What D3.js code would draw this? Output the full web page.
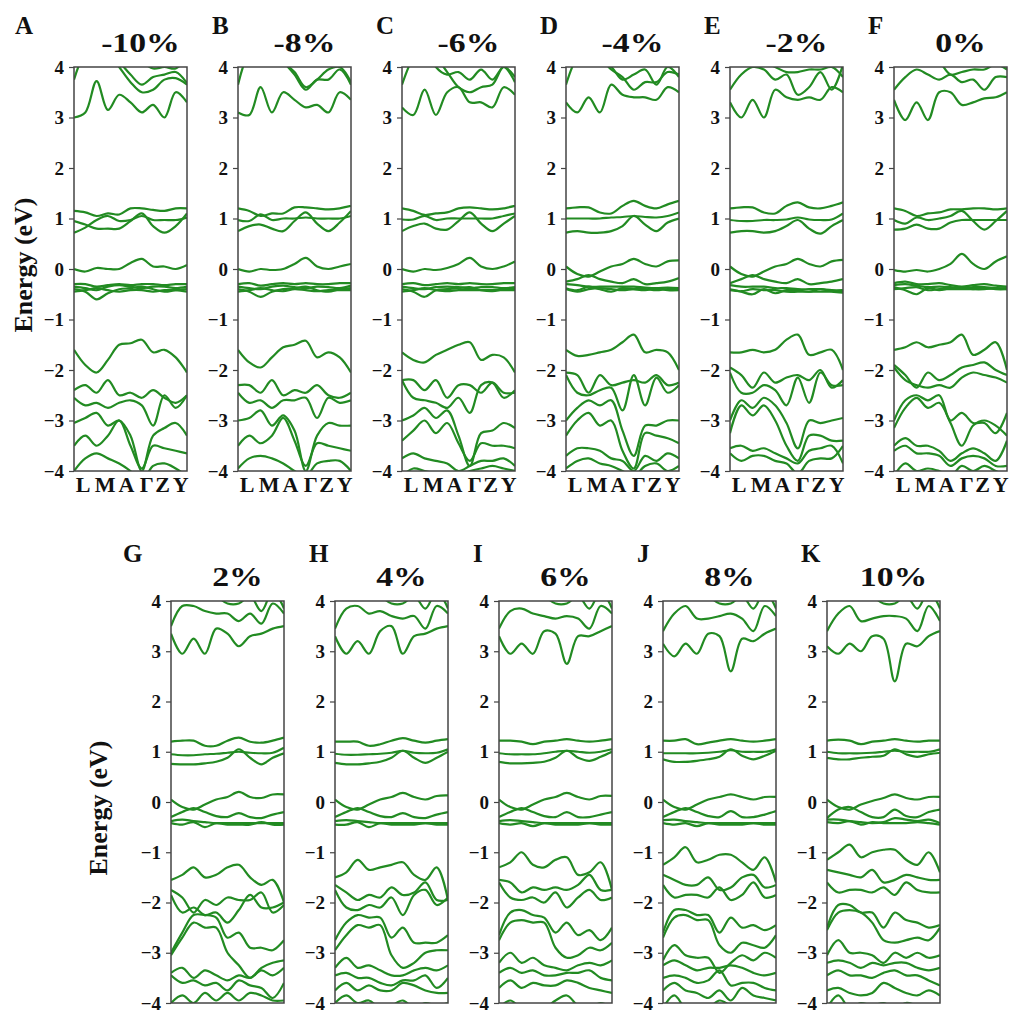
<!DOCTYPE html>
<html>
<head>
<meta charset="utf-8">
<script src="https://cdn.jsdelivr.net/npm/d3@7"></script>
<style>
  body { margin: 0; background: #fff; }
</style>
</head>
<body>
<div id="viz"></div>
<script>
// panel letters and strain titles
const letters = ['A', 'B', 'C', 'D', 'E', 'F', 'G', 'H', 'I', 'J', 'K'];
const strains = ['-10%', '-8%', '-6%', '-4%', '-2%', '0%', '2%', '4%', '6%', '8%', '10%'];
const kLabels = ['L', 'M', 'A', 'Γ', 'Z', 'Y'];
const kLabelAt = [0.75, 2.7, 4.6, 6.4, 7.8, 9.4];
const yTicks = [-4, -3, -2, -1, 0, 1, 2, 3, 4];

// band energies (eV), 11 k-samples each
const bandsA = [
  [3.0, 3.1, 3.72, 3.15, 3.45, 3.3, 3.1, 3.25, 3.0, 3.5, 3.3],
  [3.75, 4.3, 4.5, 4.3, 4.1, 3.85, 3.65, 3.8, 3.85, 3.9, 3.68],
  [4.5, 4.5, 4.4, 4.3, 4.0, 3.7, 3.5, 3.55, 3.75, 3.78, 3.65],
  [4.5, 4.5, 4.5, 4.4, 4.3, 4.2, 4.1, 3.97, 4.0, 3.97, 4.2],
  [1.15, 1.12, 1.05, 1.1, 1.08, 1.2, 1.2, 1.17, 1.15, 1.2, 1.2],
  [0.95, 0.88, 0.8, 0.8, 0.8, 0.95, 1.1, 0.85, 0.72, 0.85, 1.1],
  [0.72, 0.82, 0.97, 1.05, 0.95, 0.97, 1.05, 0.97, 0.97, 0.97, 1.02],
  [0.0, -0.05, 0.02, 0.0, 0.0, 0.12, 0.2, 0.05, 0.05, 0.0, 0.08],
  [-0.3, -0.3, -0.35, -0.32, -0.3, -0.32, -0.3, -0.3, -0.32, -0.3, -0.3],
  [-0.35, -0.38, -0.42, -0.35, -0.32, -0.35, -0.38, -0.35, -0.35, -0.38, -0.35],
  [-0.4, -0.45, -0.6, -0.48, -0.4, -0.38, -0.35, -0.4, -0.45, -0.42, -0.4],
  [-0.45, -0.42, -0.38, -0.42, -0.45, -0.42, -0.42, -0.45, -0.42, -0.42, -0.45],
  [-1.6, -1.9, -2.05, -1.8, -1.5, -1.47, -1.4, -1.65, -1.6, -1.75, -2.05],
  [-2.4, -2.3, -2.45, -2.2, -2.5, -2.45, -2.55, -2.4, -2.55, -2.65, -2.5],
  [-2.55, -2.7, -2.65, -2.75, -2.65, -2.6, -2.7, -3.1, -2.5, -2.75, -2.5],
  [-3.05, -2.95, -2.85, -3.1, -3.0, -3.3, -4.0, -3.3, -3.15, -3.05, -3.3],
  [-3.5, -3.3, -3.5, -3.3, -3.0, -3.5, -3.95, -3.5, -3.55, -3.6, -3.65],
  [-4.0, -3.75, -3.65, -3.75, -3.85, -4.0, -4.2, -3.9, -3.85, -3.95, -4.1]
];

const bandsB = [
  [3.1, 3.05, 3.6, 3.1, 3.5, 3.35, 3.2, 3.25, 3.1, 3.5, 3.35],
  [3.65, 4.3, 4.5, 4.4, 4.1, 3.9, 3.6, 3.75, 3.95, 4.0, 3.7],
  [4.5, 4.5, 4.4, 4.3, 4.1, 3.85, 3.55, 3.75, 3.75, 3.95, 3.65],
  [1.2, 1.15, 1.05, 1.1, 1.1, 1.22, 1.22, 1.2, 1.18, 1.2, 1.25],
  [0.97, 0.95, 1.08, 0.97, 1.0, 1.0, 1.02, 1.0, 1.0, 1.0, 1.05],
  [0.75, 0.85, 0.88, 0.8, 0.75, 0.95, 1.12, 0.9, 0.75, 0.92, 1.15],
  [0.0, -0.05, 0.0, -0.02, 0.0, 0.1, 0.22, 0.05, 0.0, 0.05, 0.1],
  [-0.3, -0.28, -0.33, -0.3, -0.28, -0.3, -0.28, -0.3, -0.3, -0.28, -0.28],
  [-0.35, -0.38, -0.4, -0.35, -0.33, -0.36, -0.38, -0.35, -0.36, -0.38, -0.33],
  [-0.4, -0.45, -0.55, -0.45, -0.4, -0.38, -0.35, -0.42, -0.45, -0.4, -0.38],
  [-0.45, -0.42, -0.38, -0.42, -0.44, -0.4, -0.42, -0.44, -0.42, -0.42, -0.42],
  [-1.6, -1.85, -1.95, -1.75, -1.55, -1.5, -1.42, -1.75, -1.65, -1.75, -2.05],
  [-2.3, -2.3, -2.45, -2.2, -2.5, -2.4, -2.45, -2.3, -2.5, -2.55, -2.45],
  [-2.45, -2.65, -2.6, -2.75, -2.6, -2.6, -2.55, -2.95, -2.55, -2.65, -2.6],
  [-3.0, -2.95, -2.8, -3.1, -2.9, -3.2, -4.0, -3.3, -3.05, -3.1, -3.1],
  [-3.5, -3.3, -3.45, -3.3, -2.95, -3.4, -3.9, -3.45, -3.5, -3.55, -3.6],
  [-3.95, -3.75, -3.7, -3.75, -3.85, -4.0, -4.1, -3.85, -3.8, -3.8, -4.0]
];

const bandsC = [
  [3.2, 3.05, 3.55, 3.05, 3.5, 3.6, 3.3, 3.3, 3.2, 3.6, 3.45],
  [3.65, 4.2, 4.5, 4.0, 3.85, 3.9, 3.75, 3.95, 3.75, 4.0, 3.8],
  [4.5, 4.5, 4.4, 4.2, 3.9, 3.6, 3.5, 3.6, 3.65, 4.0, 3.7],
  [1.2, 1.15, 1.07, 1.1, 1.12, 1.2, 1.22, 1.2, 1.18, 1.2, 1.25],
  [0.98, 0.98, 1.05, 0.97, 1.0, 1.0, 1.0, 1.0, 1.0, 1.05, 1.1],
  [0.75, 0.85, 0.9, 0.8, 0.78, 0.95, 1.12, 0.9, 0.75, 0.9, 1.05],
  [0.0, -0.05, 0.0, -0.02, 0.02, 0.1, 0.22, 0.05, 0.0, 0.05, 0.15],
  [-0.3, -0.28, -0.32, -0.3, -0.28, -0.3, -0.28, -0.3, -0.3, -0.28, -0.28],
  [-0.35, -0.38, -0.4, -0.36, -0.35, -0.36, -0.38, -0.36, -0.36, -0.38, -0.36],
  [-0.4, -0.45, -0.55, -0.42, -0.4, -0.38, -0.36, -0.42, -0.44, -0.4, -0.38],
  [-0.45, -0.42, -0.38, -0.42, -0.44, -0.42, -0.42, -0.42, -0.42, -0.42, -0.42],
  [-1.65, -1.8, -1.85, -1.7, -1.6, -1.5, -1.45, -1.8, -1.7, -1.75, -2.05],
  [-2.2, -2.2, -2.4, -2.2, -2.55, -2.3, -2.3, -2.45, -2.25, -2.45, -2.45],
  [-2.2, -2.55, -2.6, -2.65, -2.75, -2.55, -2.85, -2.3, -2.25, -2.55, -2.4],
  [-3.0, -2.9, -2.75, -2.95, -2.8, -3.3, -3.9, -3.25, -3.2, -3.05, -3.15],
  [-3.4, -3.2, -3.0, -3.25, -3.05, -3.45, -3.8, -3.45, -3.5, -3.5, -3.55],
  [-3.75, -3.65, -3.75, -3.8, -3.85, -4.0, -3.9, -3.8, -3.8, -3.75, -3.9],
  [-4.1, -3.95, -4.0, -4.05, -4.1, -4.1, -4.0, -3.95, -3.9, -3.95, -4.0]
];

const bandsD = [
  [3.3, 3.1, 3.4, 3.1, 3.65, 3.45, 3.4, 3.4, 3.35, 3.6, 3.5],
  [3.65, 4.2, 4.4, 4.2, 3.95, 3.8, 3.55, 3.7, 3.7, 3.9, 3.85],
  [4.5, 4.5, 4.3, 4.1, 4.0, 3.75, 3.85, 3.95, 3.65, 4.0, 3.8],
  [1.2, 1.22, 1.22, 1.12, 1.1, 1.25, 1.35, 1.25, 1.2, 1.28, 1.35],
  [1.0, 1.0, 1.0, 1.0, 1.02, 1.03, 1.05, 1.03, 1.02, 1.05, 1.12],
  [0.72, 0.75, 0.72, 0.72, 0.75, 0.85, 1.05, 0.88, 0.75, 0.92, 1.0],
  [0.05, -0.1, -0.15, -0.05, 0.05, 0.1, 0.2, 0.1, 0.05, 0.15, 0.17],
  [-0.25, -0.2, -0.12, -0.2, -0.25, -0.28, -0.2, -0.3, -0.28, -0.25, -0.18],
  [-0.3, -0.32, -0.35, -0.35, -0.35, -0.35, -0.35, -0.37, -0.38, -0.37, -0.38],
  [-0.38, -0.42, -0.35, -0.4, -0.45, -0.38, -0.4, -0.42, -0.38, -0.42, -0.42],
  [-0.4, -0.45, -0.4, -0.38, -0.4, -0.42, -0.4, -0.4, -0.42, -0.4, -0.4],
  [-1.6, -1.72, -1.7, -1.65, -1.6, -1.45, -1.3, -1.65, -1.6, -1.65, -2.0],
  [-2.05, -2.1, -2.45, -2.1, -2.3, -2.25, -2.2, -2.25, -2.1, -2.3, -2.25],
  [-2.1, -2.45, -2.5, -2.4, -2.35, -2.8, -2.1, -2.7, -2.15, -2.45, -2.3],
  [-3.0, -2.75, -2.6, -2.7, -2.6, -3.2, -3.7, -3.1, -3.1, -3.0, -3.0],
  [-3.3, -3.0, -2.85, -3.1, -3.0, -3.6, -3.95, -3.25, -3.3, -3.35, -3.45],
  [-3.7, -3.55, -3.55, -3.6, -3.75, -3.8, -4.0, -3.7, -3.8, -3.65, -3.75],
  [-3.95, -3.8, -3.75, -3.85, -3.9, -4.0, -4.1, -3.9, -3.85, -4.0, -3.9]
];

const bandsE = [
  [3.3, 3.0, 3.35, 3.0, 3.55, 3.4, 3.35, 3.4, 3.35, 3.6, 3.5],
  [3.55, 3.85, 4.0, 3.95, 3.75, 3.85, 3.45, 3.6, 3.9, 3.55, 4.05],
  [4.5, 4.5, 4.3, 4.1, 4.0, 3.9, 3.9, 3.95, 3.95, 4.0, 3.8],
  [1.2, 1.22, 1.22, 1.12, 1.1, 1.25, 1.32, 1.22, 1.2, 1.25, 1.32],
  [0.97, 0.95, 0.95, 0.97, 0.97, 0.98, 1.02, 0.98, 0.97, 0.98, 1.1],
  [0.72, 0.75, 0.75, 0.72, 0.75, 0.85, 0.97, 0.8, 0.7, 0.85, 0.97],
  [0.05, -0.1, -0.15, -0.05, 0.05, 0.1, 0.2, 0.1, 0.05, 0.15, 0.18],
  [-0.28, -0.2, -0.12, -0.2, -0.25, -0.28, -0.2, -0.3, -0.28, -0.25, -0.2],
  [-0.32, -0.35, -0.35, -0.35, -0.38, -0.38, -0.4, -0.4, -0.4, -0.42, -0.42],
  [-0.4, -0.45, -0.5, -0.4, -0.48, -0.42, -0.42, -0.45, -0.4, -0.44, -0.45],
  [-0.42, -0.44, -0.4, -0.42, -0.42, -0.45, -0.45, -0.45, -0.45, -0.45, -0.47],
  [-1.65, -1.65, -1.6, -1.65, -1.6, -1.4, -1.3, -1.7, -1.65, -1.6, -2.0],
  [-1.95, -2.1, -2.35, -2.05, -2.25, -2.15, -2.1, -2.2, -2.0, -2.35, -2.2],
  [-2.05, -2.45, -2.45, -2.3, -2.4, -2.7, -2.15, -2.65, -2.05, -2.3, -2.3],
  [-3.0, -2.6, -2.75, -2.55, -2.7, -3.05, -3.55, -3.0, -3.05, -3.0, -2.95],
  [-3.25, -2.7, -2.9, -2.7, -3.0, -3.5, -3.8, -3.3, -3.3, -3.4, -3.4],
  [-3.55, -3.5, -3.6, -3.55, -3.65, -3.75, -3.85, -3.6, -3.55, -3.5, -3.85],
  [-3.65, -3.8, -3.7, -3.7, -3.8, -3.85, -4.05, -3.8, -3.75, -3.75, -3.5]
];

const bandsF = [
  [3.35, 2.95, 3.3, 2.95, 3.5, 3.5, 3.25, 3.3, 3.38, 3.4, 3.5],
  [3.55, 3.8, 3.95, 3.85, 3.75, 3.85, 3.7, 3.75, 3.55, 3.8, 3.8],
  [4.5, 4.5, 4.4, 4.2, 4.1, 3.85, 3.9, 3.95, 3.95, 4.05, 3.95],
  [1.2, 1.15, 1.05, 1.1, 1.12, 1.18, 1.18, 1.2, 1.2, 1.18, 1.2],
  [0.97, 0.9, 1.02, 0.97, 1.0, 1.05, 1.15, 0.95, 0.78, 0.95, 1.15],
  [0.78, 0.8, 0.88, 0.8, 0.8, 0.92, 0.97, 0.97, 0.97, 0.97, 0.97],
  [-0.02, -0.05, -0.02, -0.05, 0.0, 0.1, 0.3, 0.1, 0.0, 0.15, 0.25],
  [-0.28, -0.25, -0.3, -0.3, -0.28, -0.32, -0.35, -0.32, -0.3, -0.33, -0.35],
  [-0.32, -0.3, -0.33, -0.36, -0.35, -0.36, -0.38, -0.36, -0.36, -0.38, -0.38],
  [-0.36, -0.42, -0.5, -0.38, -0.42, -0.38, -0.38, -0.4, -0.4, -0.38, -0.4],
  [-0.4, -0.38, -0.36, -0.42, -0.4, -0.4, -0.4, -0.4, -0.38, -0.4, -0.4],
  [-1.6, -1.55, -1.45, -1.55, -1.5, -1.45, -1.3, -1.7, -1.6, -1.45, -2.0],
  [-1.9, -2.1, -2.35, -2.05, -2.2, -2.1, -1.95, -1.9, -1.85, -2.0, -2.1],
  [-1.95, -2.2, -2.3, -2.35, -2.3, -2.35, -2.15, -2.05, -2.1, -2.15, -2.25],
  [-3.0, -2.6, -2.5, -2.6, -2.5, -3.0, -2.85, -3.05, -3.05, -3.25, -2.85],
  [-3.15, -2.75, -2.55, -2.75, -2.65, -3.05, -3.5, -3.1, -3.0, -3.1, -3.3],
  [-3.5, -3.35, -3.5, -3.5, -3.6, -3.8, -3.65, -3.55, -3.65, -3.8, -3.4],
  [-3.6, -3.5, -3.65, -3.65, -3.7, -3.9, -3.75, -3.7, -3.75, -3.9, -3.9],
  [-4.1, -3.85, -4.0, -3.95, -4.0, -4.1, -3.9, -4.0, -3.9, -4.0, -4.1]
];

const bandsG = [
  [3.35, 2.95, 3.25, 2.95, 3.45, 3.35, 3.1, 3.3, 3.35, 3.45, 3.5],
  [3.5, 3.9, 3.9, 3.8, 3.75, 3.75, 3.6, 3.75, 3.55, 3.95, 3.75],
  [4.5, 4.5, 4.4, 4.2, 4.1, 3.95, 3.95, 4.1, 3.8, 4.2, 3.85],
  [1.2, 1.22, 1.22, 1.12, 1.12, 1.22, 1.28, 1.2, 1.18, 1.22, 1.28],
  [0.95, 0.93, 0.93, 0.95, 0.96, 0.98, 1.0, 0.98, 0.97, 0.98, 1.08],
  [0.76, 0.75, 0.75, 0.77, 0.8, 0.88, 1.05, 0.88, 0.75, 0.88, 0.97],
  [0.05, -0.1, -0.15, -0.05, 0.05, 0.1, 0.2, 0.1, 0.08, 0.15, 0.15],
  [-0.3, -0.2, -0.12, -0.2, -0.28, -0.3, -0.22, -0.3, -0.32, -0.25, -0.2],
  [-0.38, -0.35, -0.38, -0.4, -0.42, -0.42, -0.42, -0.42, -0.42, -0.42, -0.42],
  [-0.42, -0.45, -0.4, -0.5, -0.42, -0.45, -0.45, -0.45, -0.4, -0.45, -0.45],
  [-1.55, -1.45, -1.3, -1.5, -1.45, -1.3, -1.25, -1.5, -1.65, -1.55, -2.0],
  [-1.75, -1.9, -2.2, -1.95, -2.05, -1.9, -1.95, -1.95, -1.8, -2.2, -2.05],
  [-1.85, -2.2, -2.1, -2.25, -2.2, -2.4, -2.15, -1.85, -2.1, -2.1, -2.0],
  [-3.0, -2.6, -2.25, -2.25, -2.3, -2.7, -2.6, -2.9, -2.9, -2.95, -2.75],
  [-3.05, -2.7, -2.4, -2.5, -2.5, -3.0, -3.25, -3.5, -3.3, -3.2, -3.15],
  [-3.4, -3.3, -3.5, -3.35, -3.45, -3.55, -3.45, -3.5, -3.35, -3.45, -3.3],
  [-3.45, -3.6, -3.55, -3.65, -3.6, -3.75, -3.55, -3.65, -3.7, -3.9, -3.6],
  [-4.0, -3.85, -4.0, -3.8, -3.95, -3.8, -3.95, -3.8, -3.85, -3.95, -3.95]
];

const bandsH = [
  [3.3, 2.95, 3.2, 2.95, 3.4, 3.5, 2.95, 3.3, 3.35, 3.45, 3.5],
  [3.45, 3.85, 3.9, 3.75, 3.8, 3.7, 3.65, 3.7, 3.45, 3.9, 3.75],
  [4.5, 4.5, 4.4, 4.2, 4.1, 3.95, 3.95, 4.1, 3.85, 4.2, 3.85],
  [1.2, 1.2, 1.2, 1.12, 1.15, 1.22, 1.27, 1.22, 1.18, 1.22, 1.25],
  [0.96, 0.94, 0.94, 0.95, 0.96, 0.98, 1.02, 0.98, 0.97, 0.98, 1.05],
  [0.78, 0.75, 0.75, 0.77, 0.8, 0.88, 1.02, 0.88, 0.78, 0.88, 1.0],
  [0.05, -0.1, -0.15, -0.05, 0.05, 0.1, 0.18, 0.1, 0.05, 0.12, 0.13],
  [-0.3, -0.2, -0.12, -0.2, -0.28, -0.3, -0.22, -0.3, -0.32, -0.25, -0.2],
  [-0.38, -0.36, -0.38, -0.4, -0.42, -0.42, -0.42, -0.42, -0.42, -0.42, -0.42],
  [-0.45, -0.45, -0.4, -0.5, -0.42, -0.45, -0.45, -0.45, -0.42, -0.45, -0.45],
  [-1.5, -1.4, -1.15, -1.35, -1.3, -1.25, -1.2, -1.45, -1.55, -1.3, -1.95],
  [-1.65, -1.8, -1.95, -1.85, -1.9, -1.7, -1.85, -1.8, -1.6, -1.95, -1.95],
  [-1.75, -2.1, -2.15, -2.05, -2.1, -1.9, -2.25, -1.85, -1.75, -2.05, -1.9],
  [-2.75, -2.4, -2.25, -2.3, -2.3, -2.7, -2.5, -2.8, -2.8, -2.8, -2.65],
  [-2.95, -2.65, -2.45, -2.5, -2.45, -3.05, -3.3, -3.2, -3.0, -2.95, -2.95],
  [-3.3, -3.1, -3.3, -3.25, -3.35, -3.45, -3.45, -3.35, -3.3, -3.35, -3.25],
  [-3.45, -3.4, -3.5, -3.5, -3.6, -3.65, -3.55, -3.55, -3.45, -3.7, -3.5],
  [-3.75, -3.6, -3.75, -3.65, -3.75, -3.75, -3.6, -3.65, -3.75, -3.8, -3.8],
  [-4.0, -3.85, -4.0, -3.95, -4.1, -4.05, -3.95, -4.1, -4.0, -4.05, -4.0]
];

const bandsI = [
  [3.3, 2.95, 3.15, 2.95, 3.4, 3.35, 2.75, 3.3, 3.3, 3.4, 3.5],
  [3.45, 3.8, 3.85, 3.75, 3.7, 3.65, 3.7, 3.65, 3.45, 3.9, 3.75],
  [4.5, 4.5, 4.4, 4.2, 4.1, 3.95, 3.95, 4.1, 3.85, 4.2, 3.85],
  [1.22, 1.22, 1.2, 1.15, 1.2, 1.22, 1.25, 1.22, 1.2, 1.22, 1.25],
  [0.97, 0.95, 0.95, 0.95, 0.97, 1.0, 1.02, 1.0, 0.98, 1.0, 1.05],
  [0.8, 0.77, 0.77, 0.78, 0.8, 0.88, 1.02, 0.88, 0.82, 0.9, 1.0],
  [0.05, -0.1, -0.15, -0.05, 0.05, 0.1, 0.18, 0.1, 0.05, 0.12, 0.12],
  [-0.3, -0.2, -0.12, -0.2, -0.28, -0.3, -0.2, -0.3, -0.3, -0.25, -0.2],
  [-0.38, -0.36, -0.38, -0.4, -0.42, -0.42, -0.42, -0.42, -0.42, -0.42, -0.42],
  [-0.42, -0.45, -0.42, -0.48, -0.42, -0.45, -0.45, -0.45, -0.42, -0.45, -0.45],
  [-1.3, -1.2, -1.0, -1.25, -1.3, -1.15, -1.1, -1.45, -1.4, -1.2, -1.75],
  [-1.55, -1.6, -1.8, -1.7, -1.75, -1.7, -1.75, -1.65, -1.45, -1.75, -1.75],
  [-1.6, -1.9, -1.95, -1.9, -2.0, -1.8, -2.1, -1.9, -1.75, -1.95, -1.9],
  [-2.65, -2.2, -2.15, -2.25, -2.3, -2.6, -2.4, -2.65, -2.55, -2.75, -2.5],
  [-2.75, -2.4, -2.35, -2.4, -2.4, -2.9, -3.1, -3.05, -2.9, -2.95, -2.8],
  [-3.2, -3.0, -3.2, -3.1, -3.25, -3.3, -3.35, -3.25, -3.2, -3.25, -3.15],
  [-3.4, -3.3, -3.4, -3.35, -3.45, -3.45, -3.4, -3.4, -3.35, -3.5, -3.55],
  [-3.7, -3.55, -3.7, -3.6, -3.65, -3.65, -3.55, -3.6, -3.7, -3.75, -3.8],
  [-4.1, -3.95, -4.1, -4.05, -4.1, -3.95, -3.85, -4.05, -4.1, -4.0, -4.1]
];

const bandsJ = [
  [3.15, 2.9, 3.15, 2.95, 3.35, 3.3, 2.6, 3.25, 3.2, 3.35, 3.45],
  [3.4, 3.75, 3.9, 3.65, 3.65, 3.7, 3.75, 3.65, 3.4, 3.9, 3.7],
  [4.5, 4.5, 4.4, 4.2, 4.1, 3.95, 3.95, 4.1, 3.85, 4.2, 3.85],
  [1.22, 1.22, 1.25, 1.15, 1.18, 1.22, 1.25, 1.22, 1.2, 1.22, 1.25],
  [0.97, 0.97, 0.97, 0.97, 0.98, 1.0, 1.03, 1.0, 1.0, 1.0, 1.05],
  [0.85, 0.8, 0.8, 0.82, 0.85, 0.9, 1.05, 0.92, 0.85, 0.92, 1.02],
  [0.05, -0.1, -0.15, -0.05, 0.05, 0.1, 0.15, 0.1, 0.05, 0.1, 0.1],
  [-0.3, -0.2, -0.12, -0.2, -0.28, -0.3, -0.18, -0.3, -0.3, -0.25, -0.18],
  [-0.36, -0.35, -0.38, -0.4, -0.42, -0.42, -0.42, -0.42, -0.42, -0.42, -0.42],
  [-0.42, -0.45, -0.42, -0.48, -0.42, -0.45, -0.45, -0.45, -0.42, -0.45, -0.45],
  [-1.25, -1.1, -0.9, -1.2, -1.15, -1.05, -1.05, -1.2, -1.35, -1.1, -1.6],
  [-1.45, -1.55, -1.65, -1.65, -1.5, -1.75, -1.7, -1.5, -1.45, -1.7, -1.65],
  [-1.65, -1.9, -1.85, -1.85, -1.9, -1.7, -1.95, -1.85, -1.6, -1.9, -1.85],
  [-2.6, -2.15, -2.15, -2.25, -2.25, -2.6, -2.3, -2.5, -2.45, -2.55, -2.45],
  [-2.7, -2.3, -2.25, -2.35, -2.35, -2.85, -3.0, -2.8, -2.85, -2.9, -2.65],
  [-3.15, -2.85, -3.05, -3.1, -3.1, -3.4, -3.2, -3.05, -3.15, -3.0, -3.1],
  [-3.25, -3.15, -3.25, -3.35, -3.3, -3.3, -3.25, -3.3, -3.4, -3.45, -3.4],
  [-3.5, -3.45, -3.5, -3.6, -3.55, -3.35, -3.65, -3.6, -3.6, -3.7, -3.75],
  [-3.75, -3.6, -3.75, -3.8, -3.9, -3.75, -3.95, -3.7, -3.85, -3.9, -3.95],
  [-4.1, -3.85, -4.1, -4.1, -4.1, -3.95, -4.05, -4.1, -4.05, -4.1, -4.1]
];

const bandsK = [
  [3.1, 2.95, 3.15, 3.0, 3.3, 3.25, 2.4, 3.15, 3.1, 3.3, 3.4],
  [3.4, 3.75, 3.9, 3.6, 3.65, 3.7, 3.7, 3.65, 3.4, 3.9, 3.6],
  [4.5, 4.5, 4.4, 4.2, 4.1, 3.95, 3.95, 4.1, 3.85, 4.2, 3.85],
  [1.22, 1.24, 1.22, 1.15, 1.2, 1.22, 1.25, 1.22, 1.2, 1.22, 1.22],
  [1.0, 0.97, 0.97, 0.97, 0.98, 1.0, 1.02, 1.0, 1.0, 1.0, 1.05],
  [0.88, 0.85, 0.85, 0.88, 0.9, 0.92, 1.05, 0.95, 0.9, 0.95, 0.98],
  [0.05, -0.1, -0.15, -0.05, 0.02, 0.08, 0.15, 0.08, 0.05, 0.1, 0.1],
  [-0.32, -0.15, -0.1, -0.2, -0.3, -0.3, -0.15, -0.28, -0.3, -0.2, -0.15],
  [-0.35, -0.35, -0.38, -0.4, -0.42, -0.4, -0.32, -0.35, -0.38, -0.35, -0.42],
  [-0.4, -0.42, -0.38, -0.45, -0.4, -0.42, -0.42, -0.42, -0.4, -0.42, -0.45],
  [-1.15, -1.0, -0.85, -1.1, -1.0, -0.95, -0.95, -1.15, -1.25, -1.0, -1.4],
  [-1.35, -1.4, -1.45, -1.5, -1.35, -1.6, -1.55, -1.45, -1.5, -1.55, -1.55],
  [-1.6, -1.8, -1.75, -1.75, -1.8, -1.7, -1.85, -1.6, -1.75, -1.8, -1.8],
  [-2.5, -2.05, -2.05, -2.2, -2.2, -2.5, -2.2, -2.35, -2.4, -2.5, -2.45],
  [-2.55, -2.2, -2.15, -2.2, -2.4, -2.75, -2.8, -2.75, -2.7, -2.75, -2.5],
  [-3.05, -2.75, -3.0, -3.0, -3.05, -3.2, -3.0, -3.1, -3.0, -3.1, -3.05],
  [-3.2, -3.15, -3.2, -3.3, -3.2, -3.25, -3.2, -3.2, -3.3, -3.35, -3.3],
  [-3.45, -3.35, -3.45, -3.45, -3.5, -3.4, -3.35, -3.45, -3.45, -3.55, -3.65],
  [-3.75, -3.7, -3.8, -3.85, -3.8, -3.6, -3.7, -3.8, -3.85, -3.75, -3.85],
  [-4.1, -3.85, -4.1, -4.0, -4.05, -4.0, -4.1, -4.0, -4.05, -4.1, -4.1]
];

const panelBands = [bandsA, bandsB, bandsC, bandsD, bandsE, bandsF,
                    bandsG, bandsH, bandsI, bandsJ, bandsK];

const serif = '"Liberation Serif", "Times New Roman", serif';
const green = '#228b22';
const plotW = 113;
const step = 164;

const svg = d3.select('#viz')
  .append('svg')
  .attr('width', 1010)
  .attr('height', 1016)
  .style('display', 'block');

panelBands.forEach((bands, i) => {
  const topRow = i < 6;
  const col = topRow ? i : i - 6;
  const left = (topRow ? 74 : 171) + col * step;
  const y0 = topRow ? 67 : 601;
  const y1 = topRow ? 471 : 1003;

  const x = d3.scaleLinear().domain([0, 10]).range([left, left + plotW]);
  const y = d3.scaleLinear().domain([-4, 4]).range([y1, y0]);

  const g = svg.append('g');

  g.append('clipPath')
    .attr('id', 'clip' + i)
    .append('rect')
    .attr('x', left)
    .attr('y', y0)
    .attr('width', plotW)
    .attr('height', y1 - y0);

  const line = d3.line()
    .x((d, j) => x(j))
    .y(d => y(d))
    .curve(d3.curveCatmullRom.alpha(0.5));

  g.append('g')
    .attr('clip-path', `url(#clip${i})`)
    .selectAll('path')
    .data(bands)
    .join('path')
    .attr('d', line)
    .attr('fill', 'none')
    .attr('stroke', green)
    .attr('stroke-width', 2.2);

  // y axis
  const ax = g.append('g')
    .attr('transform', `translate(${left},0)`)
    .call(d3.axisLeft(y).tickValues(yTicks).tickSize(5).tickPadding(5));
  ax.select('.domain').remove();
  ax.selectAll('line').attr('stroke', '#444').attr('stroke-width', 1.2);
  ax.selectAll('text')
    .attr('font-family', serif)
    .attr('font-weight', 'bold')
    .attr('font-size', 19)
    .attr('fill', '#111');

  // frame
  g.append('rect')
    .attr('x', left)
    .attr('y', y0)
    .attr('width', plotW)
    .attr('height', y1 - y0)
    .attr('fill', 'none')
    .attr('stroke', '#444')
    .attr('stroke-width', 1.5);

  // k-path labels on top row
  if (topRow) {
    const kx = d3.axisBottom(x).tickValues(kLabelAt)
      .tickFormat((d, j) => kLabels[j]).tickSize(0).tickPadding(5);
    const kg = g.append('g')
      .attr('transform', `translate(0,${y1})`)
      .call(kx);
    kg.select('.domain').remove();
    kg.selectAll('text')
      .attr('font-family', serif)
      .attr('font-weight', 'bold')
      .attr('font-size', 22)
      .attr('fill', '#111');
  }

  // panel letter
  const lx = col === 0 ? (topRow ? left - 59 : left - 48) : left - 26;
  g.append('text')
    .attr('x', lx)
    .attr('y', topRow ? 34 : 562)
    .attr('font-family', serif)
    .attr('font-weight', 'bold')
    .attr('font-size', 25)
    .attr('fill', '#111')
    .text(letters[i]);

  // strain title
  g.append('text')
    .attr('transform', `translate(${left + plotW / 2 + 10},${y0 - 15}) scale(1.25,1)`)
    .attr('text-anchor', 'middle')
    .attr('font-family', serif)
    .attr('font-weight', 'bold')
    .attr('font-size', 27)
    .attr('fill', '#111')
    .text(strains[i]);
});

// y axis titles
[[32, 265], [107, 808]].forEach(([tx, ty]) => {
  svg.append('text')
    .attr('transform', `translate(${tx},${ty}) rotate(-90)`)
    .attr('text-anchor', 'middle')
    .attr('font-family', serif)
    .attr('font-weight', 'bold')
    .attr('font-size', 26)
    .attr('fill', '#111')
    .text('Energy (eV)');
});
</script>
</body>
</html>
